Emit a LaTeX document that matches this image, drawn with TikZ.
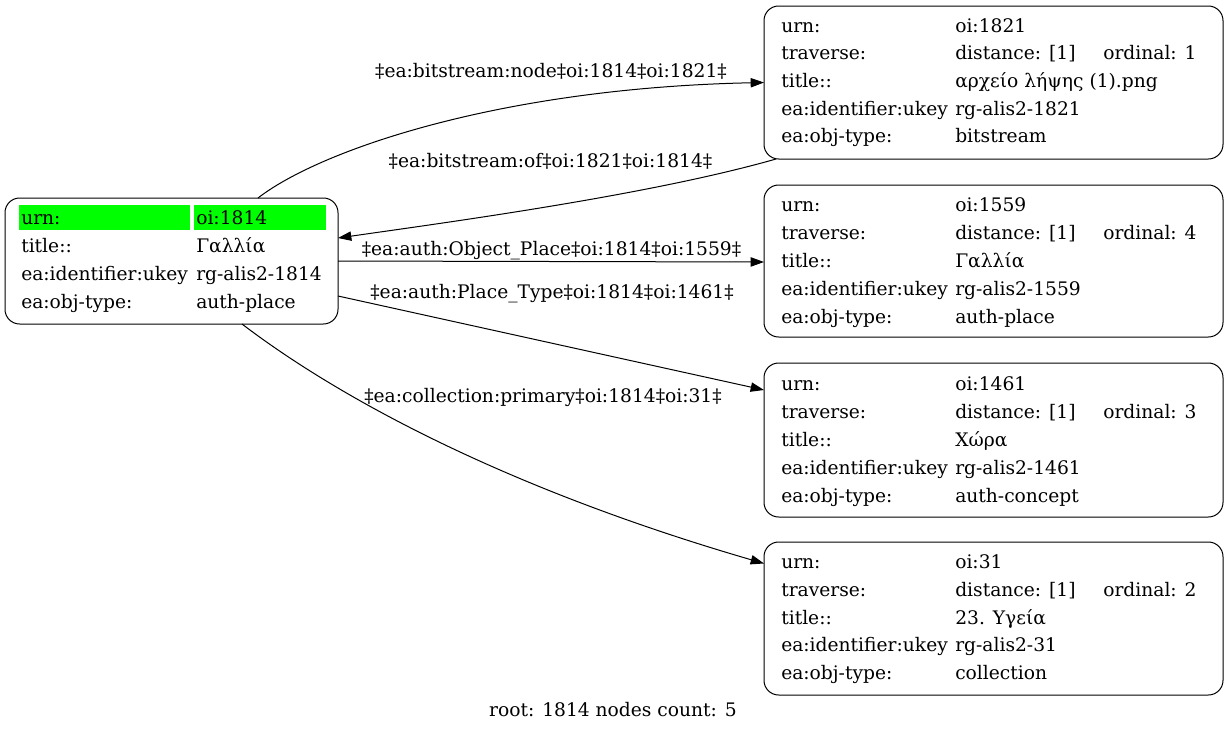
\documentclass[tikz,border=0pt]{standalone}
\usepackage{fontspec}
\setmainfont{DejaVu Serif}
\usetikzlibrary{arrows.meta,calc}
\definecolor{hl}{RGB}{0,255,0}
\begin{document}
\begin{tikzpicture}[x=0.75pt,y=-0.75pt,
  box/.style={draw, rounded corners=11pt, line width=0.75pt, inner sep=0pt, outer sep=0pt, anchor=north west},
  txt/.style={anchor=base west, inner sep=0pt, font=\fontsize{14}{16}\selectfont},
  lbl/.style={anchor=base, inner sep=0pt, font=\fontsize{14}{16}\selectfont},
  cell/.style={fill=hl, inner sep=0pt, anchor=north west},
  edge/.style={line width=0.75pt, -{Triangle[length=10pt,width=7pt]}}
]
\useasboundingbox (0,0) rectangle (1228,732);

% ---------- root node ----------
\node[cell, minimum width=128.25pt, minimum height=18.75pt] (c1) at (19,205) {};
\node[cell, minimum width=99pt, minimum height=18.75pt] (c2) at (194,205) {};
\node[box, minimum width=249.75pt, minimum height=94.5pt] (b1814) at (5,198) {};
\node[txt] (r1a) at (21,224) {urn:};
\node[txt] (r1b) at (196,224) {oi:1814};
\node[txt] (r2a) at (21,252) {title::};
\node[txt] (r2b) at (196,252) {Γαλλία};
\node[txt] (r3a) at (21,280) {ea:identifier:ukey};
\node[txt] (r3b) at (196,280) {rg-alis2-1814};
\node[txt] (r4a) at (21,308) {ea:obj-type:};
\node[txt] (r4b) at (196,308) {auth-place};

% ---------- node 1821 ----------
\node[box, minimum width=344.25pt, minimum height=114.75pt] (b1821) at (764,6) {};
\node[txt] (a1) at (781,32) {urn:};
\node[txt] (a2) at (955,32) {oi:1821};
\node[txt] (a3) at (781,59.5) {traverse:};
\node[txt] (a4) at (955,59.5) {distance: [1]};
\node[txt] (a5) at (1103,59.5) {ordinal: 1};
\node[txt] (a6) at (781,87) {title::};
\node[txt] (a7) at (955,87) {αρχείο λήψης (1).png};
\node[txt] (a8) at (781,115) {ea:identifier:ukey};
\node[txt] (a9) at (955,115) {rg-alis2-1821};
\node[txt] (a10) at (781,142.5) {ea:obj-type:};
\node[txt] (a11) at (955,142.5) {bitstream};

% ---------- node 1559 ----------
\node[box, minimum width=344.25pt, minimum height=114pt] (b1559) at (764,185) {};
\node[txt] (p1) at (781,211) {urn:};
\node[txt] (p2) at (955,211) {oi:1559};
\node[txt] (p3) at (781,239) {traverse:};
\node[txt] (p4) at (955,239) {distance: [1]};
\node[txt] (p5) at (1103,239) {ordinal: 4};
\node[txt] (p6) at (781,267) {title::};
\node[txt] (p7) at (955,267) {Γαλλία};
\node[txt] (p8) at (781,295) {ea:identifier:ukey};
\node[txt] (p9) at (955,295) {rg-alis2-1559};
\node[txt] (p10) at (781,323) {ea:obj-type:};
\node[txt] (p11) at (955,323) {auth-place};

% ---------- node 1461 ----------
\node[box, minimum width=344.25pt, minimum height=115.5pt] (b1461) at (764,363) {};
\node[txt] (q1) at (781,390) {urn:};
\node[txt] (q2) at (955,390) {oi:1461};
\node[txt] (q3) at (781,418) {traverse:};
\node[txt] (q4) at (955,418) {distance: [1]};
\node[txt] (q5) at (1103,418) {ordinal: 3};
\node[txt] (q6) at (781,446) {title::};
\node[txt] (q7) at (955,446) {Χώρα};
\node[txt] (q8) at (781,474) {ea:identifier:ukey};
\node[txt] (q9) at (955,474) {rg-alis2-1461};
\node[txt] (q10) at (781,502) {ea:obj-type:};
\node[txt] (q11) at (955,502) {auth-concept};

% ---------- node 31 ----------
\node[box, minimum width=344.25pt, minimum height=114.75pt] (b31) at (764,542) {};
\node[txt] (s1) at (781,568) {urn:};
\node[txt] (s2) at (955,568) {oi:31};
\node[txt] (s3) at (781,596) {traverse:};
\node[txt] (s4) at (955,596) {distance: [1]};
\node[txt] (s5) at (1103,596) {ordinal: 2};
\node[txt] (s6) at (781,624) {title::};
\node[txt] (s7) at (955,624) {23. Υγεία};
\node[txt] (s8) at (781,651.5) {ea:identifier:ukey};
\node[txt] (s9) at (955,651.5) {rg-alis2-31};
\node[txt] (s10) at (781,679) {ea:obj-type:};
\node[txt] (s11) at (955,679) {collection};

% ---------- edges ----------
\draw[edge] ($(b1814.north west)+(253,0)$) .. controls (320,150) and (500,88) .. (b1821.west);
\node[lbl] (l1) at (551,77) {‡ea:bitstream:node‡oi:1814‡oi:1821‡};

\draw[edge] ($(b1821.south west)+(12,0)$) .. controls (650,195) and (450,222) .. ($(b1814.east)+(0,-23)$);
\node[lbl] (l2) at (550.5,167) {‡ea:bitstream:of‡oi:1821‡oi:1814‡};

\draw[edge] (b1814.east) -- ($(b1559.west)+(0,1)$);
\node[lbl] (l3) at (551.5,255) {‡ea:auth:Object\_Place‡oi:1814‡oi:1559‡};

\draw[edge] ($(b1814.east)+(0,35)$) -- ($(b1461.west)+(0,-50)$);
\node[lbl] (l4) at (552,298) {‡ea:auth:Place\_Type‡oi:1814‡oi:1461‡};

\draw[edge] ($(b1814.south west)+(237,0)$) .. controls (305,372) and (460,475) .. ($(b31.west)+(0,-55)$);
\node[lbl] (l5) at (543,402) {‡ea:collection:primary‡oi:1814‡oi:31‡};

\node[lbl] (foot) at (613,716) {root: 1814 nodes count: 5};
\end{tikzpicture}
\end{document}
